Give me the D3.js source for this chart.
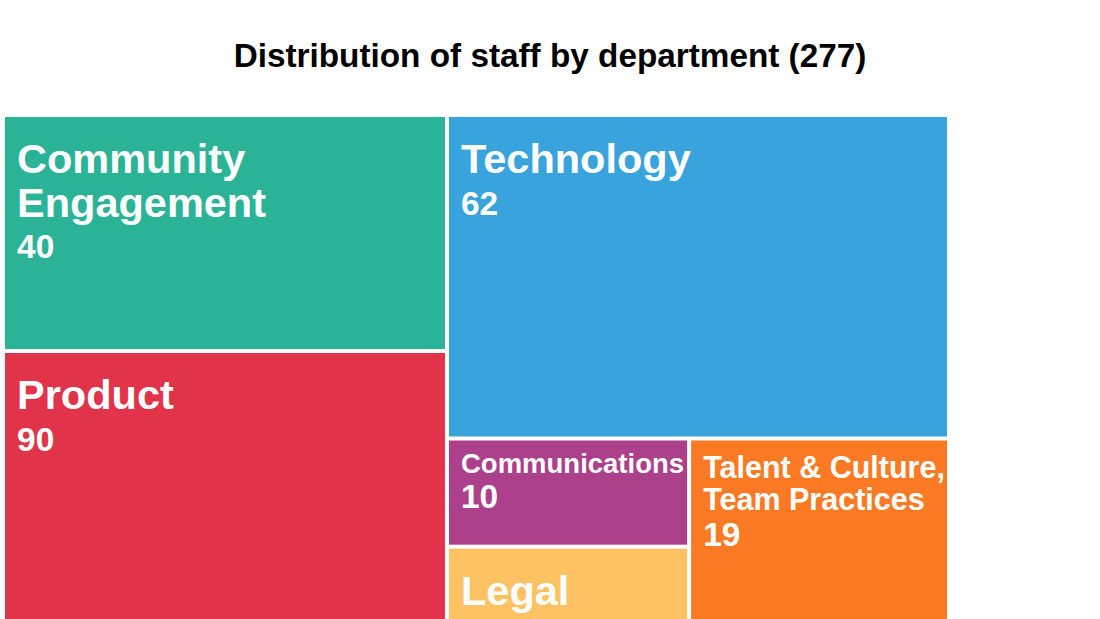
<!DOCTYPE html>
<html>
<head>
<meta charset="utf-8">
<script src="https://cdn.jsdelivr.net/npm/d3@7"></script>
<style>
  html, body { margin: 0; padding: 0; background: #ffffff; overflow: hidden; }
  svg { display: block; }
  text { font-family: "Liberation Sans", Arial, Helvetica, sans-serif; font-weight: bold; }
</style>
</head>
<body>
<svg id="chart" width="1100" height="619"></svg>
<script>
// ---- data ----
const title = "Distribution of staff by department (277)";
const departments = ["Community Engagement", "Product", "Technology", "Communications", "Legal",
                     "Finance & Administration", "Talent & Culture, Team Practices", "Advancement"];
const staff = [40, 90, 62, 10, 11, 20, 19, 25];
const groupOf = ["left", "left", "right", "colA", "colA", "colA", "colB", "colB"];
const colors = ["#2AB396", "#E1344A", "#38A3DC", "#AC408B", "#FEC263", "#8C6BB1", "#FC7A24", "#6C8BA0"];
// layout groups: id, parent, split direction
const groupIds = ["root", "left", "right", "bottom", "colA", "colB"];
const groupParents = ["", "root", "root", "right", "bottom", "bottom"];
const groupSplit = ["x", "y", "y", "x", "y", "y"];

// ---- build hierarchy (order preserved) ----
const rows = [];
const addGroup = id => { const i = groupIds.indexOf(id); rows.push({ id, parent: groupParents[i] || null }); };
const addLeaf = i => rows.push({ id: departments[i], parent: groupOf[i], value: staff[i], color: colors[i] });
addGroup("root");
addGroup("left"); addLeaf(0); addLeaf(1);
addGroup("right"); addLeaf(2);
addGroup("bottom");
addGroup("colA"); addLeaf(3); addLeaf(4); addLeaf(5);
addGroup("colB"); addLeaf(6); addLeaf(7);

const root = d3.stratify().id(d => d.id).parentId(d => d.parent)(rows)
  .sum(d => d.value || 0);

const splitOf = {};
groupIds.forEach((g, i) => splitOf[g] = groupSplit[i]);

const W = 946, H = 767, X0 = 3, Y0 = 115, GAP = 2;
d3.treemap()
  .size([W, H])
  .tile((node, x0, y0, x1, y1) =>
    (splitOf[node.id] === "x" ? d3.treemapDice : d3.treemapSlice)(node, x0, y0, x1, y1))
  (root);

const svg = d3.select("#chart");

svg.append("text")
  .attr("x", 550).attr("y", 67)
  .attr("text-anchor", "middle")
  .attr("font-size", 33.3)
  .attr("fill", "#000")
  .text(title);

const g = svg.append("g").attr("transform", `translate(${X0},${Y0})`);

const leaves = root.leaves();
const cell = g.selectAll("g.cell").data(leaves).join("g").attr("class", "cell");

cell.append("rect")
  .attr("x", d => d.x0 + GAP)
  .attr("y", d => d.y0 + GAP)
  .attr("width", d => Math.max(0, d.x1 - d.x0 - 2 * GAP))
  .attr("height", d => Math.max(0, d.y1 - d.y0 - 2 * GAP))
  .attr("fill", d => d.data.color);

// measuring helper
const meas = svg.append("text").attr("visibility", "hidden");
function textWidth(str, size) {
  meas.attr("font-size", size).text(str);
  return meas.node().getComputedTextLength();
}
function wrap(words, size, maxW) {
  const lines = [];
  let cur = "";
  for (const w of words) {
    const t = cur ? cur + " " + w : w;
    if (!cur || textWidth(t, size) <= maxW) cur = t;
    else { lines.push(cur); cur = w; }
  }
  if (cur) lines.push(cur);
  return lines;
}

cell.each(function(d) {
  const sel = d3.select(this);
  const x = d.x0 + GAP + 12;
  const maxW = (d.x1 - d.x0 - 2 * GAP) - 14;
  const words = d.data.id.split(" ");
  let fs = 41.5, lines;
  for (; fs > 10; fs -= 0.25) {
    lines = wrap(words, fs, maxW);
    if (lines.length <= 2 && lines.every(l => textWidth(l, fs) <= maxW)) break;
  }
  const top = d.y0 + GAP;
  const base = top + 1.69 * fs - 14.2;
  const lh = fs * 1.05;
  lines.forEach((l, i) => {
    sel.append("text")
      .attr("x", x).attr("y", base + i * lh)
      .attr("font-size", fs)
      .attr("fill", "#ffffff")
      .text(l);
  });
  const lastBase = base + (lines.length - 1) * lh;
  sel.append("text")
    .attr("x", x).attr("y", lastBase + 36 + (fs - 30) * 0.5)
    .attr("font-size", 33.5)
    .attr("fill", "#ffffff")
    .text(d.data.value);
});
meas.remove();
</script>
</body>
</html>
